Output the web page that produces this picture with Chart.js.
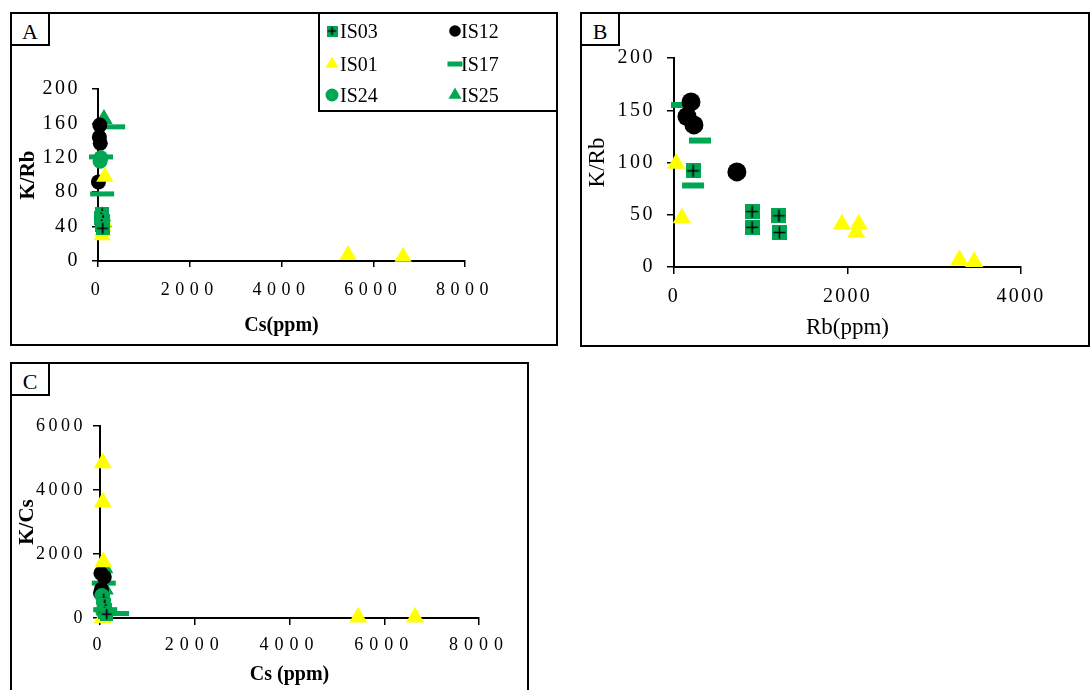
<!DOCTYPE html>
<html lang="es">
<head>
<meta charset="utf-8">
<title>K/Rb y K/Cs</title>
<script src="https://cdn.jsdelivr.net/npm/chart.js@4.4.1/dist/chart.umd.min.js"></script>
<style>
  html, body { margin: 0; padding: 0; background: #fff; }
  body { position: relative; width: 1091px; height: 690px; overflow: hidden; font-family: "Liberation Serif", "Times New Roman", serif; color: #000; }
  .panel { position: absolute; border: 2px solid #000; box-sizing: border-box; }
  .etiqueta { position: absolute; border: 2px solid #000; box-sizing: border-box; background: #fff; width: 40px; height: 34px; font-size: 22px; line-height: 36px; text-align: center; }
  canvas.grafica { position: absolute; }
  #leyenda { position: absolute; left: 318px; top: 12px; width: 240px; height: 100px; border: 2px solid #000; box-sizing: border-box; background: #fff; }
  #leyenda canvas { position: absolute; left: 0; top: 0; }
  #leyenda span { position: absolute; font-size: 20px; line-height: 20px; white-space: nowrap; }
</style>
</head>
<body>
<div class="panel" style="left:10px;top:12px;width:548px;height:334px"></div>
<div class="panel" style="left:580px;top:12px;width:510px;height:335px"></div>
<div class="panel" style="left:10px;top:362px;width:519px;height:340px"></div>

<canvas id="grafA" class="grafica" width="544" height="327" style="left:12px;top:14px"></canvas>
<canvas id="grafB" class="grafica" width="506" height="328" style="left:582px;top:14px"></canvas>
<canvas id="grafC" class="grafica" width="514" height="326" style="left:12px;top:364px"></canvas>

<div class="etiqueta" style="left:10px;top:12px">A</div>
<div class="etiqueta" style="left:580px;top:12px">B</div>
<div class="etiqueta" style="left:10px;top:362px">C</div>

<div id="leyenda"><canvas id="marcas" width="236" height="96"></canvas></div>

<script>
const verde = '#00a651'
const amarillo = '#ffff00'
const negro = '#000000'
const fuente = '"Liberation Serif", "Times New Roman", serif'

// muestras (orden de la leyenda, por filas)
const muestras = ['IS03', 'IS12', 'IS01', 'IS17', 'IS24', 'IS25']

// A: Cs (ppm) vs K/Rb
const csKrbIS03 = [[90, 55], [70, 50], [110, 47], [80, 42], [100, 38]]
const csKrbIS01 = [[150, 98], [130, 46], [110, 40], [100, 35], [90, 30], [5450, 7], [6650, 5]]
const csKrbIS24 = [[45, 116], [60, 120]]
const csKrbIS12 = [[40, 158], [30, 144], [50, 137], [10, 92]]
const csKrbIS17 = [[330, 156], [65, 121], [90, 78]]
const csKrbIS25 = [[130, 165], [100, 52], [120, 45]]

// B: Rb (ppm) vs K/Rb
const rbKrbIS03 = [[220, 92], [900, 53], [900, 38], [1210, 49], [1215, 33]]
const rbKrbIS01 = [[25, 99], [90, 47], [1935, 41], [2130, 41], [2100, 33], [3290, 7], [3460, 5]]
const rbKrbIS12 = [[196, 158], [150, 144], [230, 136], [725, 91]]
const rbKrbIS17 = [[92, 155], [300, 121], [220, 78]]

// C: Cs (ppm) vs K/Cs
const csKcsIS03 = [[80, 600], [100, 420], [120, 280], [90, 180], [140, 120]]
const csKcsIS01 = [[60, 4840], [60, 3620], [70, 1750], [60, 10], [5450, 20], [6650, 20]]
const csKcsIS24 = [[40, 700], [70, 500], [90, 350], [60, 200]]
const csKcsIS12 = [[20, 1400], [90, 1280], [10, 780], [30, 900]]
const csKcsIS17 = [[80, 1090], [360, 140], [110, 260]]
const csKcsIS25 = [[90, 1560], [100, 900]]

// ticks
const ticksCs = [0, 2000, 4000, 6000, 8000]
const ticksRb = [0, 2000, 4000]
const ticksKrbA = [0, 40, 80, 120, 160, 200]
const ticksKrbB = [0, 50, 100, 150, 200]
const ticksKcs = [0, 2000, 4000, 6000]

// cuadro verde con cruz negra (IS03)
function cuadroCruz(lado) {
    const c = document.createElement('canvas')
    c.width = lado
    c.height = lado
    const g = c.getContext('2d')
    g.fillStyle = verde
    g.fillRect(0, 0, lado, lado)
    g.strokeStyle = negro
    g.lineWidth = 1.6
    const m = lado / 2
    g.beginPath()
    g.moveTo(m, 1.5); g.lineTo(m, lado - 1.5)
    g.moveTo(1.5, m); g.lineTo(lado - 1.5, m)
    g.stroke()
    return c
}

function aPuntos(arr) {
    return arr.map(p => ({ x: p[0], y: p[1] }))
}

function series(d03, d01, d24, d12, d17, d25, m) {
    const lista = []
    const comun = { showLine: false, clip: false, pointBorderWidth: 0 }
    if (d03) lista.push({ ...comun, label: 'IS03', data: aPuntos(d03), pointStyle: cuadroCruz(m.cuadro), pointRadius: m.cuadro / 2 })
    if (d01) lista.push({ ...comun, label: 'IS01', data: aPuntos(d01), pointStyle: 'triangle', pointRadius: m.triangulo, pointBackgroundColor: amarillo })
    if (d24) lista.push({ ...comun, label: 'IS24', data: aPuntos(d24), pointStyle: 'circle', pointRadius: m.circulo, pointBackgroundColor: verde })
    if (d12) lista.push({ ...comun, label: 'IS12', data: aPuntos(d12), pointStyle: 'circle', pointRadius: m.circulo, pointBackgroundColor: negro })
    if (d17) lista.push({ ...comun, label: 'IS17', data: aPuntos(d17), pointStyle: 'line', pointRadius: m.raya, pointBorderWidth: m.grosor, pointBorderColor: verde })
    if (d25) lista.push({ ...comun, label: 'IS25', data: aPuntos(d25), pointStyle: 'triangle', pointRadius: m.triangulo, pointBackgroundColor: verde })
    return lista
}

// espaciado entre letras de las etiquetas de los ejes
const espaciado = {
    id: 'espaciado',
    beforeDraw(chart, args, opts) {
        ['x', 'y'].forEach(eje => {
            const sc = chart.scales[eje]
            if (!sc || sc._espaciado) return
            const original = sc.drawLabels.bind(sc)
            sc.drawLabels = function (area) {
                chart.ctx.save()
                chart.ctx.letterSpacing = opts[eje] || '0px'
                original(area)
                chart.ctx.restore()
            }
            sc._espaciado = true
        })
    }
}

function crearGrafica(id, datasets, ej) {
    const eje = (min, max, ticks, t) => ({
        type: 'linear',
        min: min,
        max: max,
        afterBuildTicks: s => { s.ticks = ticks.map(v => ({ value: v })) },
        ticks: { color: negro, font: { family: fuente, size: t.tam }, padding: t.pad, callback: v => String(v) },
        grid: { drawOnChartArea: false, drawTicks: true, tickLength: t.largo, color: negro, lineWidth: 1.5 },
        border: { display: true, color: negro, width: 2 },
        title: {
            display: true, text: t.titulo, color: negro,
            font: { family: fuente, size: t.tamTitulo, weight: t.negrita ? 'bold' : 'normal' },
            padding: { top: t.padTitulo, bottom: t.padTitulo }
        }
    })
    const x = eje(0, ej.x.max, ej.x.ticks, ej.x)
    x.afterFit = s => { s.height = ej.x.alto }
    const y = eje(0, ej.y.max, ej.y.ticks, ej.y)
    y.afterFit = s => { s.width = ej.y.ancho }
    return new Chart(document.getElementById(id), {
        type: 'scatter',
        data: { datasets: datasets },
        options: {
            responsive: false,
            animation: false,
            events: [],
            layout: { padding: { top: ej.arriba, right: ej.derecha, left: 0, bottom: 0 } },
            plugins: {
                legend: { display: false },
                tooltip: { enabled: false },
                espaciado: { x: ej.x.esp, y: ej.y.esp }
            },
            scales: { x: x, y: y }
        },
        plugins: [espaciado]
    })
}

// A
crearGrafica('grafA',
    series(csKrbIS03, csKrbIS01, csKrbIS24, csKrbIS12, csKrbIS17, csKrbIS25,
        { cuadro: 14, triangulo: 10, circulo: 7.5, raya: 12, grosor: 5 }),
    {
        arriba: 75, derecha: 91,
        x: { max: 8000, ticks: ticksCs, tam: 18, pad: 12, largo: 6, esp: '5.5px', titulo: 'Cs(ppm)', tamTitulo: 20, negrita: true, padTitulo: 3, alto: 80 },
        y: { max: 200, ticks: ticksKrbA, tam: 20, pad: 12, largo: 6, esp: '2.5px', titulo: 'K/Rb', tamTitulo: 21, negrita: true, padTitulo: 4, ancho: 86 }
    })

// B
crearGrafica('grafB',
    series(rbKrbIS03, rbKrbIS01, null, rbKrbIS12, rbKrbIS17, null,
        { cuadro: 15, triangulo: 10.5, circulo: 9.5, raya: 11, grosor: 6 }),
    {
        arriba: 44, derecha: 67,
        x: { max: 4000, ticks: ticksRb, tam: 20, pad: 11, largo: 7, esp: '2.3px', titulo: 'Rb(ppm)', tamTitulo: 23, negrita: false, padTitulo: 0, alto: 75 },
        y: { max: 200, ticks: ticksKrbB, tam: 20, pad: 12, largo: 7, esp: '2.5px', titulo: 'K/Rb', tamTitulo: 23, negrita: false, padTitulo: 2, ancho: 92 }
    })

// C
crearGrafica('grafC',
    series(csKcsIS03, csKcsIS01, csKcsIS24, csKcsIS12, csKcsIS17, csKcsIS25,
        { cuadro: 13, triangulo: 10.5, circulo: 7.5, raya: 12, grosor: 5 }),
    {
        arriba: 62, derecha: 47,
        x: { max: 8000, ticks: ticksCs, tam: 18, pad: 9, largo: 7, esp: '6px', titulo: 'Cs (ppm)', tamTitulo: 20, negrita: true, padTitulo: 3, alto: 72 },
        y: { max: 6000, ticks: ticksKcs, tam: 18, pad: 7, largo: 7, esp: '3.5px', titulo: 'K/Cs', tamTitulo: 21, negrita: true, padTitulo: 3, ancho: 88 }
    })

// leyenda
const leyenda = document.querySelector('#leyenda')
const g = document.querySelector('#marcas').getContext('2d')
const colX = [12, 135]
const filaY = [17, 50, 81]
const textoX = [20, 141]

function marca(nombre, x, y) {
    g.beginPath()
    if (nombre === 'IS03') {
        g.drawImage(cuadroCruz(11), x - 5.5, y - 5.5)
    } else if (nombre === 'IS12' || nombre === 'IS24') {
        g.fillStyle = nombre === 'IS12' ? negro : verde
        g.arc(x, y, nombre === 'IS12' ? 5.8 : 6.5, 0, Math.PI * 2)
        g.fill()
    } else if (nombre === 'IS01' || nombre === 'IS25') {
        const r = 7.5
        g.fillStyle = nombre === 'IS01' ? amarillo : verde
        g.moveTo(x, y - r)
        g.lineTo(x + r * 0.866, y + r / 2)
        g.lineTo(x - r * 0.866, y + r / 2)
        g.closePath()
        g.fill()
    } else if (nombre === 'IS17') {
        g.fillStyle = verde
        g.fillRect(x - 7.5, y - 2.5, 15, 5)
    }
}

muestras.forEach((nombre, i) => {
    const col = i % 2
    const fila = Math.floor(i / 2)
    marca(nombre, colX[col], filaY[fila])
    const span = document.createElement('span')
    span.textContent = nombre
    span.style.left = textoX[col] + 'px'
    span.style.top = (filaY[fila] - 10) + 'px'
    leyenda.appendChild(span)
})
</script>
</body>
</html>
